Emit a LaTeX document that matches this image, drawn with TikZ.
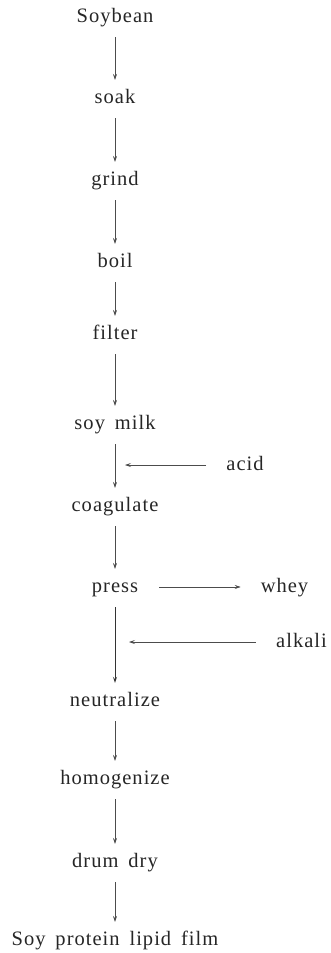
\documentclass[tikz,border=0pt]{standalone}
\usepackage{fontspec}
\setmainfont{Liberation Serif}[LetterSpace=5, WordSpace=1.6]
\usetikzlibrary{arrows.meta}
\begin{document}
\begin{tikzpicture}[x=1pt,y=-1pt,
  lbl/.style={inner sep=0pt, anchor=base, text height=14pt, text depth=4pt,
              font=\fontsize{20.5}{24}\selectfont, text=black!85},
  flow/.style={draw=black!70, line width=0.5pt,
               -{Stealth[length=6pt,width=4pt,inset=2.5pt]}},
  down/.style={flow, shorten <=11pt, shorten >=9pt},
  side/.style={flow, shorten <=20pt}]
  \useasboundingbox (0,0) rectangle (330,953);

  % main process column
  \node[lbl] (soy)  at (115,22)  {Soybean};
  \node[lbl] (soak) at (115,103) {soak};
  \node[lbl] (grd)  at (115,185) {grind};
  \node[lbl] (boil) at (115,267) {boil};
  \node[lbl] (filt) at (115,339) {filter};
  \node[lbl] (milk) at (115,429) {soy milk};
  \node[lbl] (coag) at (115,511) {coagulate};
  \node[lbl] (prs)  at (115,592) {press};
  \node[lbl] (neut) at (115,706) {neutralize};
  \node[lbl] (homo) at (115,784) {homogenize};
  \node[lbl] (dry)  at (115,867) {drum dry};
  \node[lbl] (film) at (115,945) {Soy protein lipid film};

  % side streams
  \node[lbl] (acid) at (245,470) {acid};
  \node[lbl] (whey) at (284.5,592) {whey};
  \node[lbl] (alk)  at (301.5,647) {alkali};
  \coordinate (acidin) at (125,465);
  \coordinate (alkin)  at (129,642);

  \draw[down] (soy)  -- (soak);
  \draw[down] (soak) -- (grd);
  \draw[down] (grd)  -- (boil);
  \draw[down] (boil) -- (filt);
  \draw[down] (filt) -- (milk);
  \draw[down] (milk) -- (coag);
  \draw[down] (coag) -- (prs);
  \draw[down, line width=0.9pt, draw=black!80] (prs) -- (neut);
  \draw[down] (neut) -- (homo);
  \draw[down] (homo) -- (dry);
  \draw[down] (dry)  -- (film);

  \draw[side] (acid.west) -- (acidin);
  \draw[side] (alk.west)  -- (alkin);
  \draw[flow, shorten <=21pt, shorten >=20pt] (prs.east) -- (whey.west);
\end{tikzpicture}
\end{document}
